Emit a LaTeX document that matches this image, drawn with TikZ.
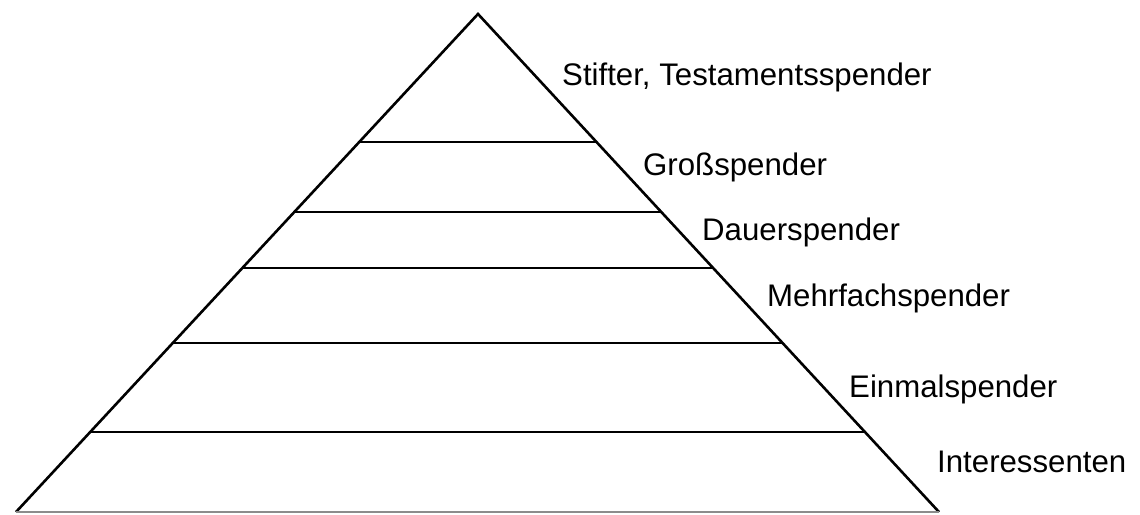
\documentclass[tikz,border=0pt]{standalone}
\usepackage{fontspec}
\setmainfont{Liberation Sans}
\usetikzlibrary{calc}

\tikzset{
  side/.style={line width=2.6pt, line join=miter},
  tier/.style={line width=1.6pt},
  tierlabel/.style={anchor=base west, inner sep=0pt, font=\fontsize{31.2}{36}\selectfont}
}

\begin{document}
\begin{tikzpicture}[x=1pt,y=-1pt]
\useasboundingbox (0,0) rectangle (1140,514);
\coordinate (apex) at (478,14);
\coordinate (baseleft) at (16,512);
\coordinate (baseright) at (939,512);
\draw[side] (baseleft) -- (apex) -- (baseright);
\draw[line width=2pt, black!45] (baseleft) -- (baseright);
\foreach \y/\name in {142/one, 212/two, 268/three, 343/four, 432/five}{
  \coordinate (tier-\name-l) at ($(apex)!{(\y-14)/498}!(baseleft)$);
  \coordinate (tier-\name-r) at ($(apex)!{(\y-14)/498}!(baseright)$);
  \draw[tier] (tier-\name-l) -- (tier-\name-r);
}
\node[tierlabel] (stifter) at (562,85) {Stifter, Testamentsspender};
\node[tierlabel] (gross) at (643,175) {Großspender};
\node[tierlabel] (dauer) at (702,240) {Dauerspender};
\node[tierlabel] (mehr) at (767,306) {Mehrfachspender};
\node[tierlabel] (einmal) at (849,397) {Einmalspender};
\node[tierlabel] (interesse) at (937,472) {Interessenten};
\end{tikzpicture}
\end{document}
